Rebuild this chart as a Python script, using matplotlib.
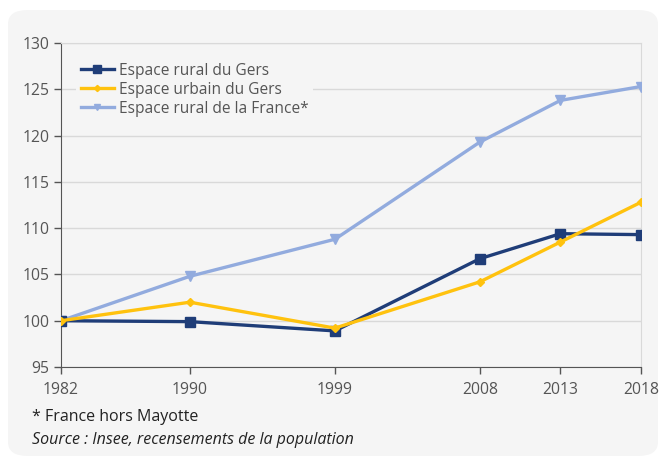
import matplotlib.pyplot as plt
from matplotlib.patches import FancyBboxPatch

plt.rcParams['font.family'] = ['Open Sans', 'DejaVu Sans']

years = [1982, 1990, 1999, 2008, 2013, 2018]
rural_gers = [100, 99.9, 98.9, 106.7, 109.4, 109.3]
urbain_gers = [100, 102.0, 99.2, 104.2, 108.5, 112.8]
rural_france = [100, 104.8, 108.8, 119.3, 123.8, 125.3]
yticks = [95, 100, 105, 110, 115, 120, 125, 130]

bg = '#f5f5f5'
fig = plt.figure(figsize=(6.63, 4.62), dpi=100)
fig.patch.set_facecolor('white')
panel = FancyBboxPatch((8 / 663, 6 / 462), 650 / 663, 446 / 462,
                       boxstyle='round,pad=0,rounding_size=0.03',
                       transform=fig.transFigure, facecolor=bg,
                       edgecolor='none', zorder=-10)
fig.patches.append(panel)

ax = fig.add_axes([61 / 663, 1 - 367 / 462, 580 / 663, 324 / 462])
ax.set_facecolor(bg)

ax.plot(years, rural_gers, color='#1f3d78', lw=2.4, marker='s', ms=7.5,
        label='Espace rural du Gers', zorder=4)
ax.plot(years, urbain_gers, color='#ffc20e', lw=2.4, marker='D', ms=4.5,
        label='Espace urbain du Gers', zorder=5)
ax.plot(years, rural_france, color='#92abde', lw=2.4, marker='v', ms=7,
        label='Espace rural de la France*', zorder=3)

ax.set_xlim(1982, 2018)
ax.set_ylim(95, 130)
ax.set_xticks(years)
ax.set_yticks(yticks)
ax.grid(axis='y', color='#d9d9d9', lw=1)
ax.set_axisbelow(True)
for s in ['top', 'right']:
    ax.spines[s].set_color('#d9d9d9')
for s in ['left', 'bottom']:
    ax.spines[s].set_color('#555555')
ax.tick_params(colors='#555555', labelsize=11.3, length=5, width=1)
ax.tick_params(axis='x', pad=6)

leg = ax.legend(loc='upper left', bbox_to_anchor=(0.013, 0.978), frameon=True,
                fontsize=11.2, handlelength=2.1, handletextpad=0.35,
                labelspacing=0.2, borderpad=0.3, markerscale=0.7)
leg.get_frame().set_facecolor(bg)
leg.get_frame().set_edgecolor('none')
leg.get_frame().set_alpha(1)
for t in leg.get_texts():
    t.set_color('#555555')

fig.text(32 / 663, 1 - 417 / 462, '* France hors Mayotte', fontsize=11.5,
         color='#222222', va='center')
fig.text(32 / 663, 1 - 440 / 462, 'Source : Insee, recensements de la population',
         fontsize=11.5, color='#222222', va='center', style='italic')

fig.savefig('out.png', dpi=100)
